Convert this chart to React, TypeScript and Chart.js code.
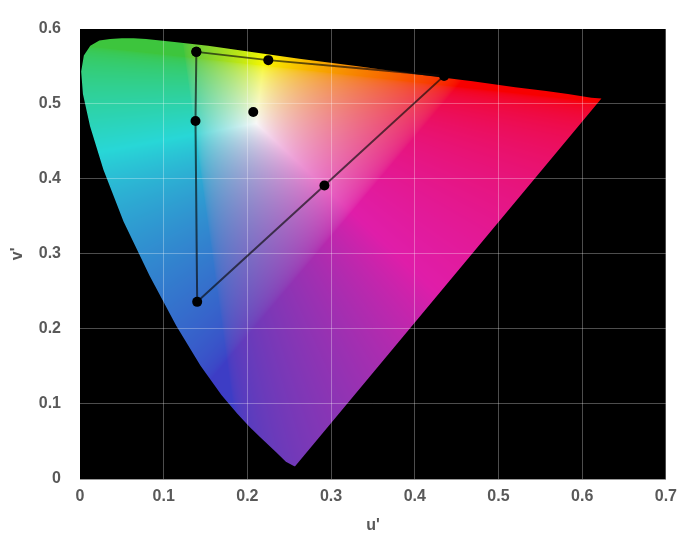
import React, { useEffect, useRef } from "react";
import { Chart, registerables } from "chart.js";

Chart.register(...registerables);

// CIE 1976 spectral locus (u', v'), 380 nm -> 700 nm
const locusU = [
  0.257, 0.256, 0.246, 0.235, 0.216, 0.203, 0.188, 0.169, 0.144, 0.115, 0.083,
  0.052, 0.028, 0.012, 0.0035, 0.0014, 0.0046, 0.0123, 0.0231, 0.036, 0.050,
  0.064, 0.079, 0.113, 0.153, 0.203, 0.262, 0.332, 0.404, 0.469, 0.520, 0.557,
  0.583, 0.611, 0.623,
];
const locusV = [
  0.017, 0.017, 0.023, 0.035, 0.055, 0.069, 0.087, 0.112, 0.151, 0.204, 0.271,
  0.343, 0.412, 0.470, 0.513, 0.543, 0.564, 0.577, 0.584, 0.586, 0.587,
  0.587, 0.586, 0.582, 0.577, 0.569, 0.560, 0.550, 0.539, 0.530, 0.522, 0.517,
  0.513, 0.508, 0.507,
];

// Triangle path: A -> B -> C -> F -> G -> D -> A
const triU = [0.139, 0.225, 0.435, 0.292, 0.140, 0.138, 0.139];
const triV = [0.569, 0.558, 0.537, 0.391, 0.236, 0.477, 0.569];

// Isolated point
const pointU = [0.207];
const pointV = [0.489];

const xTickValues = [0, 0.1, 0.2, 0.3, 0.4, 0.5, 0.6, 0.7];
const yTickValues = [0, 0.1, 0.2, 0.3, 0.4, 0.5, 0.6];

const xTitle = "u'";
const yTitle = "v'";

const TEXT = "#595959";
const FONT = "'Liberation Sans', Arial, sans-serif";

function gammaC(c: number) {
  const v = c <= 0.0031308 ? 12.92 * c : 1.055 * Math.pow(c, 1 / 2.4) - 0.055;
  return Math.max(0, Math.min(1, v));
}

function uvToRgb(u: number, v: number): [number, number, number] {
  const d = 6 * u - 16 * v + 12;
  const x = (9 * u) / d;
  const y = (4 * v) / d;
  if (y <= 0.0001) return [0, 0, 0];
  const X = x / y;
  const Y = 1;
  const Z = (1 - x - y) / y;
  let r = (3.2406 * X - 1.5372 * Y - 0.4986 * Z) / 1.2048;
  let g = (-0.9689 * X + 1.8758 * Y + 0.0415 * Z) / 0.9484;
  let b = (0.0557 * X - 0.204 * Y + 1.057 * Z) / 0.9087;
  r = Math.max(r, 0);
  g = Math.max(g, 0);
  b = Math.max(b, 0);
  const m = Math.max(r, g, b) || 1;
  const R = gammaC(r / m);
  const G = gammaC(g / m);
  let B = gammaC(b / m);
  // soften hues the way the reference picture does (white stays white)
  const notG = 1 - G;
  B = B * (1 - 0.28 * R * B * notG);
  const t =
    0.45 * (1 - R * R) * (1 - 0.35 * B * G) + 0.3 * R * R * B * notG;
  const grey = 0.55;
  const k = 0.97;
  return [
    Math.round(255 * k * (R * (1 - t) + grey * t)),
    Math.round(255 * k * (G * (1 - t) + grey * t)),
    Math.round(255 * k * (B * (1 - t) + grey * t)),
  ];
}

const gamutPlugin = {
  id: "gamut",
  beforeDraw(chart: any) {
    const { ctx, chartArea } = chart;
    const xs = chart.scales.x;
    const ys = chart.scales.y;
    const left = Math.round(chartArea.left);
    const top = Math.round(chartArea.top);
    const w = Math.round(chartArea.right) - left;
    const h = Math.round(chartArea.bottom) - top;
    ctx.save();
    ctx.fillStyle = "#000000";
    ctx.fillRect(left, top, w, h);

    const off = document.createElement("canvas");
    off.width = w;
    off.height = h;
    const octx = off.getContext("2d")!;
    const img = octx.createImageData(w, h);
    for (let j = 0; j < h; j++) {
      const v = ys.getValueForPixel(top + j + 0.5);
      for (let i = 0; i < w; i++) {
        const u = xs.getValueForPixel(left + i + 0.5);
        const [r, g, b] = uvToRgb(u, v);
        const k = (j * w + i) * 4;
        img.data[k] = r;
        img.data[k + 1] = g;
        img.data[k + 2] = b;
        img.data[k + 3] = 255;
      }
    }
    octx.putImageData(img, 0, 0);

    ctx.beginPath();
    locusU.forEach((u, idx) => {
      const px = xs.getPixelForValue(u);
      const py = ys.getPixelForValue(locusV[idx]);
      if (idx === 0) ctx.moveTo(px, py);
      else ctx.lineTo(px, py);
    });
    ctx.closePath();
    ctx.clip();
    ctx.drawImage(off, left, top);
    ctx.restore();
  },
};

export default function App() {
  const ref = useRef<HTMLCanvasElement | null>(null);

  useEffect(() => {
    if (!ref.current) return;
    const tickFont = { family: FONT, size: 16, weight: "bold" as const };
    const titleFont = { family: FONT, size: 16, weight: "bold" as const };
    const fmt = (v: any) => String(Number(Number(v).toFixed(1)));
    const gridColor = (edgeValue: number) => (c: any) =>
      c.tick && Math.abs(c.tick.value - edgeValue) < 1e-9
        ? "rgba(0,0,0,0)"
        : "rgba(255,255,255,0.3)";

    const chart = new Chart(ref.current, {
      type: "scatter",
      data: {
        datasets: [
          {
            data: triU.map((u, i) => ({ x: u, y: triV[i] })),
            showLine: true,
            borderColor: "rgba(10,10,10,0.65)",
            borderWidth: 2,
            pointRadius: 5,
            pointBackgroundColor: "#000000",
            pointBorderWidth: 0,
            pointHoverRadius: 5,
          },
          {
            data: pointU.map((u, i) => ({ x: u, y: pointV[i] })),
            showLine: false,
            pointRadius: 5,
            pointBackgroundColor: "#000000",
            pointBorderWidth: 0,
          },
        ],
      },
      options: {
        responsive: false,
        animation: false,
        events: [],
        layout: { padding: { left: 0, right: 17, top: 20, bottom: 0 } },
        plugins: {
          legend: { display: false },
          tooltip: { enabled: false },
        },
        scales: {
          x: {
            type: "linear",
            min: 0,
            max: 0.7,
            afterBuildTicks: (s: any) => {
              s.ticks = xTickValues.map((v) => ({ value: v }));
            },
            afterFit: (s: any) => {
              s.height = 69;
            },
            ticks: {
              padding: 8,
              color: TEXT,
              font: tickFont,
              maxRotation: 0,
              autoSkip: false,
              callback: fmt,
            },
            grid: { color: gridColor(0), drawTicks: false, lineWidth: 1 },
            border: { display: true, color: "#9a9a9a", width: 1 },
            title: {
              display: true,
              text: xTitle,
              color: TEXT,
              font: titleFont,
              padding: { top: 0, bottom: 13 },
            },
          },
          y: {
            type: "linear",
            min: 0,
            max: 0.6,
            afterBuildTicks: (s: any) => {
              s.ticks = yTickValues.map((v) => ({ value: v }));
            },
            afterFit: (s: any) => {
              s.width = 80;
            },
            ticks: {
              padding: 19,
              color: TEXT,
              font: tickFont,
              autoSkip: false,
              callback: fmt,
            },
            grid: { color: gridColor(0.6), drawTicks: false, lineWidth: 1 },
            border: { display: false },
            title: {
              display: true,
              text: yTitle,
              color: TEXT,
              font: titleFont,
              padding: { top: 8, bottom: 0 },
            },
          },
        },
      },
      plugins: [gamutPlugin],
    });
    return () => chart.destroy();
  }, []);

  return (
    <div
      style={{
        position: "absolute",
        left: 0,
        top: 0,
        width: 685,
        height: 548,
        background: "#ffffff",
      }}
    >
      <canvas ref={ref} width={685} height={548} style={{ display: "block" }} />
    </div>
  );
}
